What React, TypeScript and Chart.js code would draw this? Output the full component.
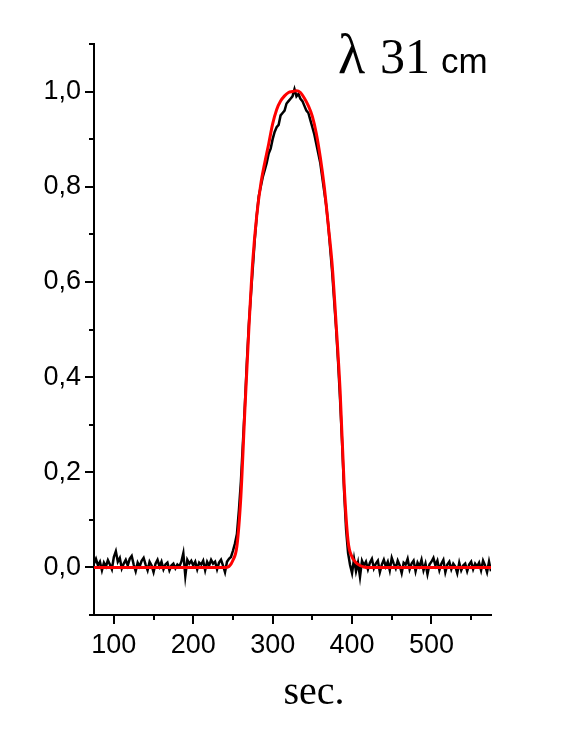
import React, { useEffect, useRef } from "react";
import { Chart, registerables } from "chart.js";

Chart.register(...registerables);

// Measured signal, sampled every 2.5 s starting at 75 s
const signalStart = 75;
const signalStep = 2.5;
const signalValues = [
  // 75 .. 92.5
  0.008, 0.018, 0.004, 0.012, -0.006, 0.010, 0.002, 0.015,
  // 95 .. 112.5
  0.006, -0.004, 0.022, 0.034, 0.012, 0.020, -0.002, 0.008,
  // 115 .. 132.5
  0.016, 0.004, 0.018, 0.024, 0.006, -0.008, 0.010, 0.002,
  // 135 .. 152.5
  0.014, 0.020, 0.006, -0.006, 0.012, 0.004, -0.010, 0.008,
  // 155 .. 172.5
  0.016, 0.002, 0.012, -0.004, 0.006, 0.010, -0.006, 0.004,
  // 175 .. 192.5
  0.008, -0.002, 0.006, 0.002, 0.012, 0.030, -0.018, 0.016,
  // 195 .. 212.5
  0.008, 0.014, 0.004, 0.012, -0.004, 0.010, 0.006, 0.014,
  // 215 .. 232.5
  -0.006, 0.012, 0.004, 0.016, 0.008, 0.012, -0.004, 0.010,
  // 235 .. 252.5
  0.016, 0.004, -0.010, 0.012, 0.018, 0.022, 0.035, 0.05,
  // 255 .. 272.5
  0.07, 0.12, 0.18, 0.26, 0.34, 0.43, 0.51, 0.57,
  // 275 .. 292.5
  0.63, 0.69, 0.74, 0.78, 0.80, 0.82, 0.835, 0.85,
  // 295 .. 312.5
  0.87, 0.88, 0.90, 0.915, 0.925, 0.93, 0.95, 0.955,
  // 315 .. 332.5
  0.96, 0.975, 0.98, 0.985, 0.99, 1.005, 0.99, 0.995,
  // 335 .. 352.5
  0.985, 0.98, 0.97, 0.96, 0.955, 0.94, 0.925, 0.91,
  // 355 .. 372.5
  0.89, 0.87, 0.85, 0.82, 0.79, 0.76, 0.72, 0.67,
  // 375 .. 392.5
  0.62, 0.56, 0.50, 0.43, 0.35, 0.26, 0.16, 0.08,
  // 395 .. 412.5
  0.03, 0.005, -0.012, 0.018, -0.008, 0.010, -0.020, 0.014,
  // 415 .. 432.5
  0.004, 0.012, -0.004, 0.010, 0.018, -0.002, 0.008, 0.014,
  // 435 .. 452.5
  -0.010, 0.006, 0.016, 0.002, 0.012, -0.006, 0.020, 0.008,
  // 455 .. 472.5
  -0.002, 0.014, 0.004, -0.012, 0.010, 0.006, 0.018, -0.004,
  // 475 .. 492.5
  0.008, 0.014, -0.008, 0.010, 0.002, 0.016, -0.006, 0.008,
  // 495 .. 512.5
  -0.014, 0.006, 0.012, 0.020, 0.004, 0.014, -0.006, 0.008,
  // 515 .. 532.5
  0.016, -0.010, 0.006, 0.012, -0.004, 0.008, 0.002, -0.012,
  // 535 .. 552.5
  0.010, -0.006, 0.004, 0.008, -0.008, 0.006, 0.012, -0.004,
  // 555 .. 572.5
  0.008, 0.002, 0.010, -0.006, 0.014, 0.004, -0.010, 0.012,
  // 575
  -0.008,
];

// Fitted curve
const fitTimes = [
  75, 240, 245, 250, 255, 260, 265, 270, 275, 280, 285, 290, 295, 300, 305,
  310, 315, 320, 325, 330, 335, 340, 345, 350, 355, 360, 365, 370, 375, 380,
  385, 390, 395, 400, 405, 410, 415, 420, 575,
];
const fitValues = [
  0, 0, 0.002, 0.015, 0.045, 0.15, 0.33, 0.5, 0.645, 0.74, 0.805, 0.85, 0.89,
  0.932, 0.962, 0.98, 0.991, 0.998, 1.0, 1.002, 0.998, 0.986, 0.97, 0.948,
  0.912, 0.862, 0.8, 0.72, 0.635, 0.51, 0.37, 0.175, 0.055, 0.022, 0.01,
  0.004, 0.001, 0, 0,
];

const xMin = 75;
const xMax = 575;
const yMin = -0.1;
const yMax = 1.1;
const xLabelTicks = [100, 200, 300, 400, 500];
const xMinorTicks = [150, 250, 350, 450, 550];
const yLabelTicks = [0, 0.2, 0.4, 0.6, 0.8, 1.0];
const yMinorTicks = [-0.1, 0.1, 0.3, 0.5, 0.7, 0.9, 1.1];

const titleSymbol = "λ";
const titleNumber = "31";
const titleUnit = "cm";
const xAxisTitle = "sec.";

const labelFont = { family: '"Liberation Sans", Arial, sans-serif', size: 27 };

export default function App() {
  const canvasRef = useRef<HTMLCanvasElement | null>(null);

  useEffect(() => {
    document.body.style.margin = "0";
    const canvas = canvasRef.current;
    if (!canvas) return;

    const signalData = signalValues.map((v, i) => ({
      x: signalStart + i * signalStep,
      y: v,
    }));
    const fitData = fitTimes.map((t, i) => ({ x: t, y: fitValues[i] }));

    const decorPlugin = {
      id: "decor",
      afterDraw(chart: any) {
        const ctx = chart.ctx;
        const xs = chart.scales.x;
        const ys = chart.scales.y;
        const area = chart.chartArea;
        ctx.save();
        ctx.strokeStyle = "#000";
        ctx.lineWidth = 2;
        ctx.lineCap = "butt";
        const drawY = (v: number, len: number) => {
          const py = Math.round(ys.getPixelForValue(v));
          ctx.beginPath();
          ctx.moveTo(area.left - len, py);
          ctx.lineTo(area.left, py);
          ctx.stroke();
        };
        yLabelTicks.forEach((v) => drawY(v, 9));
        yMinorTicks.forEach((v) => drawY(v, 5));
        const drawX = (v: number, len: number) => {
          const px = Math.round(xs.getPixelForValue(v));
          ctx.beginPath();
          ctx.moveTo(px, area.bottom);
          ctx.lineTo(px, area.bottom + len);
          ctx.stroke();
        };
        xLabelTicks.forEach((v) => drawX(v, 9));
        xMinorTicks.forEach((v) => drawX(v, 5));

        ctx.fillStyle = "#000";
        ctx.textBaseline = "alphabetic";
        ctx.textAlign = "left";
        ctx.font = '56px "Liberation Serif", "DejaVu Serif", serif';
        ctx.fillText(titleSymbol, 338, 73);
        ctx.font = '50px "Liberation Serif", "DejaVu Serif", serif';
        ctx.fillText(titleNumber, 380, 73);
        ctx.font = '35px "Liberation Sans", Arial, sans-serif';
        ctx.fillText(titleUnit, 441, 73);
        ctx.textAlign = "center";
        ctx.font = '40px "Liberation Serif", "DejaVu Serif", serif';
        ctx.fillText(xAxisTitle, 314, 704);
        ctx.restore();
      },
    };

    const chart = new Chart(canvas, {
      type: "line",
      data: {
        datasets: [
          {
            label: "fit",
            data: fitData,
            borderColor: "#ff0000",
            borderWidth: 3,
            pointRadius: 0,
            cubicInterpolationMode: "monotone",
            fill: false,
          },
          {
            label: "signal",
            data: signalData,
            borderColor: "#000000",
            borderWidth: 2.5,
            pointRadius: 0,
            tension: 0,
            fill: false,
          },
        ],
      },
      options: {
        animation: false,
        responsive: false,
        devicePixelRatio: 1,
        layout: { padding: { left: 0, top: 44, right: 81, bottom: 0 } },
        plugins: {
          legend: { display: false },
          tooltip: { enabled: false },
          title: { display: false },
        },
        scales: {
          x: {
            type: "linear",
            min: xMin,
            max: xMax,
            afterBuildTicks: (scale: any) => {
              scale.ticks = xLabelTicks.map((v) => ({ value: v }));
            },
            afterFit: (scale: any) => {
              scale.height = 125;
            },
            grid: {
              display: true,
              color: "rgba(0,0,0,0)",
              drawTicks: false,
              drawOnChartArea: false,
            },
            border: { display: true, color: "#000", width: 2 },
            ticks: {
              autoSkip: false,
              maxRotation: 0,
              minRotation: 0,
              padding: 14,
              color: "#000",
              font: labelFont,
              callback: (value: any) => String(Math.round(Number(value))),
            },
          },
          y: {
            type: "linear",
            min: yMin,
            max: yMax,
            afterBuildTicks: (scale: any) => {
              scale.ticks = yLabelTicks.map((v) => ({ value: v }));
            },
            afterFit: (scale: any) => {
              scale.width = 94;
            },
            grid: {
              display: true,
              color: "rgba(0,0,0,0)",
              drawTicks: false,
              drawOnChartArea: false,
            },
            border: { display: true, color: "#000", width: 2 },
            ticks: {
              autoSkip: false,
              padding: 13,
              color: "#000",
              font: labelFont,
              callback: (value: any) =>
                Number(value).toFixed(1).replace(".", ","),
            },
          },
        },
      },
      plugins: [decorPlugin],
    } as any);

    return () => {
      chart.destroy();
    };
  }, []);

  return (
    <div style={{ position: "absolute", left: 0, top: 0, width: 572, height: 740 }}>
      <canvas ref={canvasRef} width={572} height={740} style={{ width: 572, height: 740 }} />
    </div>
  );
}
